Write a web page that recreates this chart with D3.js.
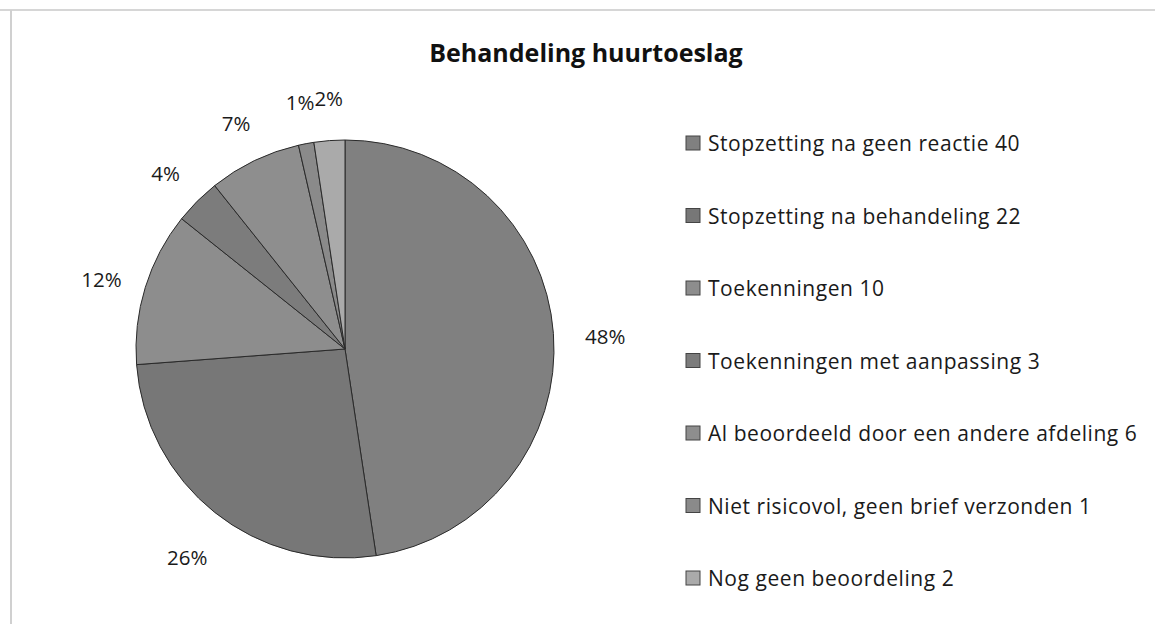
<!DOCTYPE html>
<html>
<head>
<meta charset="utf-8">
<script src="https://cdn.jsdelivr.net/npm/d3@7"></script>
<style>
  body { margin: 0; background: #fff; }
  svg { display: block; }
</style>
</head>
<body>
<svg class="chart" width="1155" height="624"></svg>
<script>
// data
let categories = ['Stopzetting na geen reactie', 'Stopzetting na behandeling', 'Toekenningen',
  'Toekenningen met aanpassing', 'Al beoordeeld door een andere afdeling',
  'Niet risicovol, geen brief verzonden', 'Nog geen beoordeling']
let values = [40, 22, 10, 3, 6, 1, 2]
let colors = ['#808080', '#777777', '#8d8d8d', '#7c7c7c', '#8e8e8e', '#8a8a8a', '#aaaaaa']
let title = 'Behandeling huurtoeslag'

let svg = d3.select('.chart')
let font = '"Open Sans", Lato, sans-serif'

// frame of the scanned chart
svg.append('line').attr('x1', 0).attr('x2', 1155).attr('y1', 10).attr('y2', 10)
  .attr('stroke', '#d6d6d6').attr('stroke-width', 2)
svg.append('line').attr('x1', 11).attr('x2', 11).attr('y1', 10).attr('y2', 624)
  .attr('stroke', '#d0d0d0').attr('stroke-width', 2)

svg.append('text')
  .attr('x', 586).attr('y', 62)
  .attr('text-anchor', 'middle')
  .style('font-family', font).style('font-weight', 'bold').style('font-size', '25px')
  .style('fill', '#111')
  .text(title)

let cx = 345, cy = 349, radius = 209
let total = d3.sum(values)

let pie = d3.pie().sort(null).value(d => d)
let arcs = pie(values)
let arc = d3.arc().innerRadius(0).outerRadius(radius)
let labelArc = d3.arc().innerRadius(258).outerRadius(258)

let g = svg.append('g').attr('transform', `translate(${cx},${cy})`)

g.selectAll('path')
  .data(arcs)
  .enter()
  .append('path')
  .attr('d', arc)
  .attr('fill', (d, i) => colors[i])
  .attr('stroke', '#2a2a2a')
  .attr('stroke-width', 1)

// percentage labels outside the pie
g.selectAll('text')
  .data(arcs)
  .enter()
  .append('text')
  .attr('x', d => labelArc.centroid(d)[0] + 3)
  .attr('y', d => labelArc.centroid(d)[1] + 6)
  .attr('text-anchor', 'middle')
  .attr('dominant-baseline', 'central')
  .style('font-family', font).style('font-size', '20.5px').style('fill', '#1a1a1a')
  .text(d => Math.round(d.value / total * 100) + '%')

// legend
let legendY = d3.scalePoint()
  .domain(d3.range(categories.length))
  .range([143, 578])

let legend = svg.append('g')
let items = legend.selectAll('g')
  .data(categories)
  .enter()
  .append('g')
  .attr('transform', (d, i) => `translate(686,${legendY(i)})`)

items.append('rect')
  .attr('x', 0).attr('y', -7)
  .attr('width', 14).attr('height', 14)
  .attr('fill', (d, i) => colors[i])
  .attr('stroke', '#444').attr('stroke-width', 1)

items.append('text')
  .attr('x', 22).attr('y', 0)
  .attr('dominant-baseline', 'central')
  .style('font-family', font).style('font-size', '21px').style('letter-spacing', '0.55px')
  .style('fill', '#1a1a1a')
  .text((d, i) => d + ' ' + values[i])
</script>
</body>
</html>
